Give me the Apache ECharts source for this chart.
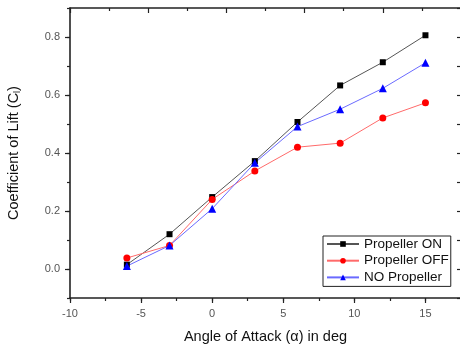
<!DOCTYPE html>
<html><head><meta charset="utf-8">
<script src="https://cdn.jsdelivr.net/npm/echarts@6/dist/echarts.min.js"></script>
<style>html,body{margin:0;padding:0;background:#fff}#c{width:460px;height:349px}</style>
</head><body><div id="c"></div>
<script>
const angles = [-6, -3, 0, 3, 6, 9, 12, 15];
const propOn = [0.015, 0.120, 0.248, 0.372, 0.507, 0.633, 0.713, 0.806];
const propOff = [0.038, 0.081, 0.240, 0.338, 0.420, 0.434, 0.521, 0.573];
const noProp = [0.010, 0.081, 0.208, 0.366, 0.491, 0.551, 0.623, 0.711];
const xTickLabels = [-10, -5, 0, 5, 10, 15];
const yTickLabels = [0.0, 0.2, 0.4, 0.6, 0.8];

const pairs = a => angles.map((x, i) => [x, a[i]]);
const font = 'Liberation Sans, Arial, sans-serif';
const axisCol = '#222';
const line = {show: true, onZero: false, lineStyle: {color: axisCol, width: 1.6}};
const chart = echarts.init(document.getElementById('c'), null, {renderer: 'canvas'});
chart.setOption({
  animation: false,
  grid: {left: 70, top: 8, right: -1, bottom: 51, containLabel: false, outerBoundsMode: 'none'},
  xAxis: [
    {type: 'value', position: 'bottom', min: -10, max: 17.5, interval: 2.5,
     axisLine: line,
     axisTick: {show: true, length: 3, lineStyle: {color: axisCol, width: 1.2}},
     axisLabel: {margin: 10, fontSize: 11, color: '#555', fontFamily: font,
       formatter: v => (xTickLabels.indexOf(v) >= 0 ? String(v) : '')},
     splitLine: {show: false},
     name: 'Angle of Attack (\u03b1) in deg', nameLocation: 'middle', nameGap: 31,
     nameTextStyle: {fontSize: 14.5, color: '#111', fontFamily: font}},
    {type: 'value', position: 'bottom', min: -10, max: 17.5, interval: 5,
     axisLine: {show: false, onZero: false}, axisLabel: {show: false}, splitLine: {show: false},
     axisTick: {show: true, length: 5, lineStyle: {color: axisCol, width: 1.2}}},
    {type: 'value', position: 'top', min: 0, max: 10, interval: 2,
     axisLine: line,
     axisTick: {show: true, inside: true, length: 5, lineStyle: {color: axisCol, width: 1.2}},
     minorTick: {show: true, splitNumber: 2, length: 3, lineStyle: {color: axisCol, width: 1.2}},
     axisLabel: {show: false}, splitLine: {show: false}, minorSplitLine: {show: false}}
  ],
  yAxis: [
    {type: 'value', position: 'left', min: -0.1, max: 0.9, interval: 0.1,
     axisLine: line,
     axisTick: {show: true, length: 3, lineStyle: {color: axisCol, width: 1.2}},
     axisLabel: {margin: 10, fontSize: 11, color: '#555', fontFamily: font,
       formatter: v => {const k = Math.round(v * 10); return (k >= 0 && k % 2 === 0) ? (k / 10).toFixed(1) : '';}},
     splitLine: {show: false},
     name: 'Coefficient of Lift (C{s|l})', nameLocation: 'middle', nameGap: 48,
     nameTextStyle: {fontSize: 14.5, color: '#111', fontFamily: font,
       rich: {s: {fontSize: 9, fontFamily: font, color: '#111', padding: [7, 0, 0, 0]}}}},
    {type: 'value', position: 'left', min: -0.1, max: 0.9,
     axisLine: {show: false, onZero: false}, axisLabel: {show: false}, splitLine: {show: false},
     axisTick: {show: true, length: 5, customValues: yTickLabels, lineStyle: {color: axisCol, width: 1.2}}},
    {type: 'value', position: 'right', min: -0.1, max: 0.9, interval: 0.1,
     axisLine: line,
     axisTick: {show: true, inside: true, length: 4, lineStyle: {color: axisCol, width: 1.2}},
     axisLabel: {show: false}, splitLine: {show: false}}
  ],
  legend: {
    orient: 'vertical', left: 323, top: 236, itemWidth: 32, itemHeight: 7, itemGap: 0.7,
    padding: [0, 2, 1, 3], borderColor: '#222', borderWidth: 1, backgroundColor: '#fff',
    textStyle: {fontSize: 13.5, color: '#111', fontFamily: font, lineHeight: 16},
    data: ['Propeller ON', 'Propeller OFF', 'NO Propeller']
  },
  series: [
    {name: 'Propeller ON', type: 'line', data: pairs(propOn), symbol: 'rect', symbolSize: 6,
     itemStyle: {color: '#000'}, lineStyle: {color: '#555', width: 1}},
    {name: 'Propeller OFF', type: 'line', data: pairs(propOff), symbol: 'circle', symbolSize: 7,
     itemStyle: {color: '#ff0000'}, lineStyle: {color: '#ff6a6a', width: 1}},
    {name: 'NO Propeller', type: 'line', data: pairs(noProp), symbol: 'triangle', symbolSize: 8,
     itemStyle: {color: '#0000ff'}, lineStyle: {color: '#6a6aff', width: 1}}
  ]
});
</script></body></html>
